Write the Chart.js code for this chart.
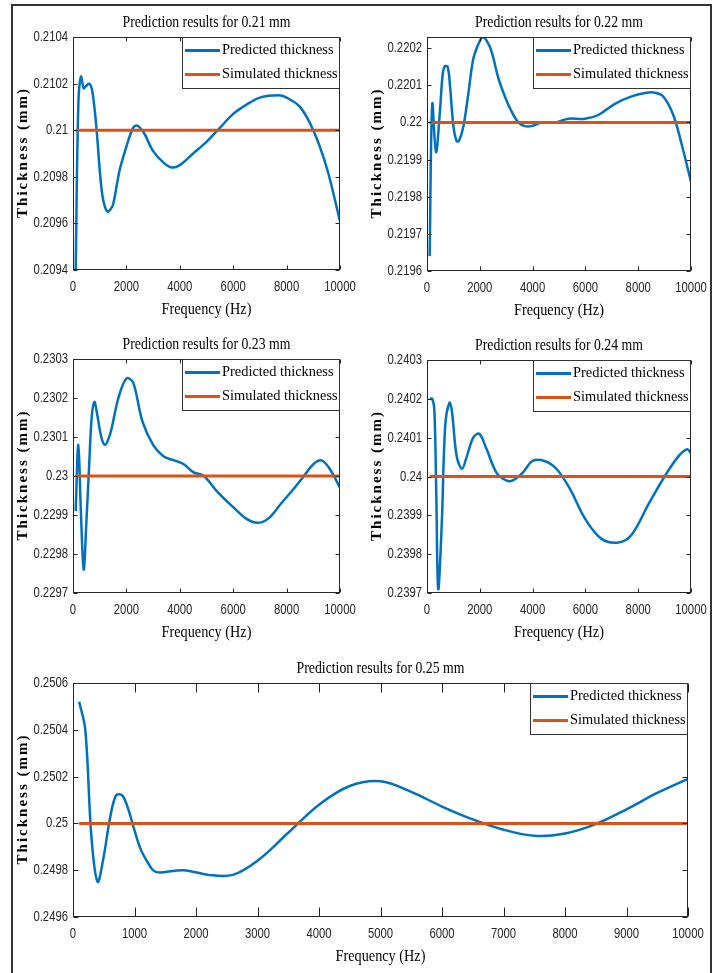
<!DOCTYPE html>
<html>
<head>
<meta charset="utf-8">
<title>Prediction results</title>
<script src="https://cdn.jsdelivr.net/npm/chart.js@4.4.0/dist/chart.umd.min.js"></script>
<style>
  body { margin: 0; background: #fff; }
  #sheet { position: relative; width: 719px; height: 973px; overflow: hidden; }
  #border { position: absolute; left: 11px; top: 4px; width: 697px; height: 1000px; border: 2px solid #333; }
  canvas { position: absolute; }
</style>
</head>
<body>
<div id="sheet">
  <div id="border"></div>
  <canvas id="c21" width="360" height="325" style="left:0;top:0"></canvas>
  <canvas id="c22" width="364" height="325" style="left:355px;top:0"></canvas>
  <canvas id="c23" width="360" height="325" style="left:0;top:322px"></canvas>
  <canvas id="c24" width="364" height="325" style="left:355px;top:322px"></canvas>
  <canvas id="c25" width="719" height="327" style="left:0;top:646px"></canvas>
</div>
<script>
// x ticks (Hz)
var freqTicks = [0, 2000, 4000, 6000, 8000, 10000];
var freqTicksWide = [0, 1000, 2000, 3000, 4000, 5000, 6000, 7000, 8000, 9000, 10000];

// simulated (reference) thickness for each case, mm
var simulated = [0.21, 0.22, 0.23, 0.24, 0.25];

// 0.21 mm
var freq21 = [100, 200, 300, 400, 500, 600, 700, 800, 900, 1000, 1100, 1200, 1300, 1400, 1500, 1750, 2000, 2250, 2400, 2650, 3000, 3400, 3700, 4000, 4500, 5000, 5500, 6000, 6500, 7000, 7700, 8000, 8500, 9000, 9500, 10000];
var pred21 = [0.20940, 0.21011, 0.21023, 0.21018, 0.21019, 0.21020, 0.21018, 0.21010, 0.20998, 0.20983, 0.20972, 0.20967, 0.20965, 0.20966, 0.20968, 0.20983, 0.20993, 0.21001, 0.21002, 0.20999, 0.20991, 0.20986, 0.20984, 0.20985, 0.20990, 0.20995, 0.21001, 0.21007, 0.21011, 0.21014, 0.21015, 0.21014, 0.21010, 0.21000, 0.20984, 0.20961];
var yTicks21 = [0.2094, 0.2096, 0.2098, 0.21, 0.2102, 0.2104];

// 0.22 mm
var freq22 = [100, 200, 340, 490, 580, 660, 780, 870, 1000, 1120, 1210, 1380, 1570, 1750, 1940, 2110, 2260, 2450, 2700, 2950, 3200, 3460, 3710, 3960, 4340, 4850, 5350, 5980, 6490, 7120, 7750, 8320, 8640, 8950, 9330, 9650, 10000];
var pred22 = [0.21964, 0.22005, 0.21992, 0.22003, 0.22012, 0.22015, 0.22015, 0.22010, 0.21999, 0.21995, 0.21995, 0.21999, 0.22008, 0.22017, 0.22021, 0.22023, 0.22022, 0.22019, 0.22012, 0.22007, 0.22003, 0.22000, 0.21999, 0.21999, 0.22000, 0.22000, 0.22001, 0.22001, 0.22002, 0.22005, 0.22007, 0.22008, 0.22008, 0.22007, 0.22002, 0.21994, 0.21984];
var yTicks22 = [0.2196, 0.2197, 0.2198, 0.2199, 0.22, 0.2201, 0.2202];

// 0.23 mm
var freq23 = [100, 200, 300, 400, 500, 600, 700, 800, 900, 1000, 1100, 1200, 1300, 1440, 1700, 2000, 2250, 2600, 3000, 3400, 3800, 4150, 4500, 4900, 5400, 6000, 6500, 6900, 7300, 7800, 8300, 8650, 9000, 9300, 9600, 10000];
var pred23 = [0.22991, 0.23008, 0.22990, 0.22976, 0.22988, 0.23002, 0.23015, 0.23019, 0.23016, 0.23012, 0.23009, 0.23008, 0.23009, 0.23012, 0.23020, 0.23025, 0.23024, 0.23014, 0.23008, 0.23005, 0.23004, 0.23003, 0.23001, 0.23000, 0.22996, 0.22992, 0.22989, 0.22988, 0.22989, 0.22993, 0.22997, 0.23000, 0.23003, 0.23004, 0.23002, 0.22997];
var yTicks23 = [0.2297, 0.2298, 0.2299, 0.23, 0.2301, 0.2302, 0.2303];

// 0.24 mm
var freq24 = [100, 200, 280, 350, 425, 560, 690, 850, 940, 1130, 1330, 1500, 1750, 1980, 2260, 2630, 3000, 3250, 3630, 4000, 4450, 4900, 5400, 6000, 6600, 7250, 7750, 8400, 9000, 9500, 9850, 10000];
var pred24 = [0.24020, 0.24020, 0.24017, 0.23996, 0.23971, 0.23988, 0.24013, 0.24019, 0.24017, 0.24005, 0.24002, 0.24005, 0.24010, 0.24011, 0.24007, 0.24001, 0.23999, 0.23999, 0.24001, 0.24004, 0.24004, 0.24002, 0.23997, 0.23989, 0.23984, 0.23983, 0.23985, 0.23993, 0.24000, 0.24005, 0.24007, 0.24006];
var yTicks24 = [0.2397, 0.2398, 0.2399, 0.24, 0.2401, 0.2402, 0.2403];

// 0.25 mm
var freq25 = [100, 200, 300, 400, 500, 600, 700, 800, 900, 1000, 1100, 1200, 1300, 1400, 1800, 2200, 2600, 3000, 3500, 4000, 4500, 5000, 5500, 6000, 6500, 7000, 7500, 8000, 8500, 9000, 9500, 10000];
var pred25 = [0.25052, 0.25040, 0.24994, 0.24975, 0.24986, 0.25002, 0.25012, 0.25012, 0.25006, 0.24997, 0.24989, 0.24984, 0.24980, 0.24979, 0.24980, 0.24978, 0.24978, 0.24984, 0.24996, 0.25008, 0.25016, 0.25018, 0.250135, 0.250072, 0.250017, 0.249973, 0.249947, 0.249957, 0.249997, 0.25006, 0.25013, 0.25019];
var yTicks25 = [0.2496, 0.2498, 0.25, 0.2502, 0.2504, 0.2506];

var BLUE = '#0072BD';
var ORANGE = '#D95319';
var SERIF = "'Liberation Serif', 'Times New Roman', serif";
var SANS = "'Liberation Sans', Arial, sans-serif";

// text squeezed horizontally by sx, to get the narrow look of the figure fonts
function drawText(ctx, text, x, y, font, sx, align, color) {
  ctx.save();
  ctx.font = font;
  ctx.textAlign = align;
  ctx.textBaseline = 'middle';
  ctx.fillStyle = color || '#000';
  ctx.translate(x, y);
  ctx.scale(sx, 1);
  ctx.fillText(text, 0, 0);
  ctx.restore();
}

// boxed axes with inward ticks, tick labels, legend box and titles
var matlabFrame = {
  id: 'matlabFrame',
  afterDraw: function (chart, args, o) {
    var ctx = chart.ctx, a = chart.chartArea;
    var xs = chart.scales.x, ys = chart.scales.y;
    var L = Math.round(a.left) + 0.5, R = Math.round(a.right) - 0.5;
    var T = Math.round(a.top) + 0.5, B = Math.round(a.bottom) - 0.5;
    var tickFont = '14.5px ' + SANS;

    ctx.save();
    ctx.strokeStyle = '#262626';
    ctx.lineWidth = 1;
    ctx.strokeRect(L, T, R - L, B - T);
    ctx.beginPath();
    xs.ticks.forEach(function (t) {
      var p = Math.round(xs.getPixelForValue(t.value)) + 0.5;
      ctx.moveTo(p, B); ctx.lineTo(p, B - o.xTick);
      ctx.moveTo(p, T); ctx.lineTo(p, T + o.xTick);
    });
    ys.ticks.forEach(function (t) {
      var p = Math.round(ys.getPixelForValue(t.value)) + 0.5;
      ctx.moveTo(L, p); ctx.lineTo(L + o.yTick, p);
      ctx.moveTo(R, p); ctx.lineTo(R - o.yTick, p);
    });
    ctx.stroke();

    xs.ticks.forEach(function (t) {
      drawText(ctx, String(t.value), xs.getPixelForValue(t.value), a.bottom + 17, tickFont, 0.78, 'center', '#262626');
    });
    ys.ticks.forEach(function (t) {
      drawText(ctx, String(+t.value.toFixed(4)), a.left - 5, ys.getPixelForValue(t.value), tickFont, 0.78, 'right', '#262626');
    });

    // legend in the upper right corner
    var lw = 158, lh = 51, lx = Math.round(a.right) - lw;
    ctx.fillStyle = '#fff';
    ctx.fillRect(lx, T, lw, lh);
    ctx.strokeStyle = '#333';
    ctx.strokeRect(lx + 0.5, T, lw - 1, lh);
    chart.data.datasets.forEach(function (ds, i) {
      var cy = T + 13 + i * 24;
      ctx.strokeStyle = ds.borderColor;
      ctx.lineWidth = 3;
      ctx.beginPath();
      ctx.moveTo(lx + 3, cy); ctx.lineTo(lx + 38, cy);
      ctx.stroke();
      drawText(ctx, ds.label, lx + 40, cy, '15px ' + SERIF, 0.96, 'left');
    });

    // titles
    var cx = (a.left + a.right) / 2;
    drawText(ctx, o.title, cx, a.top - 14.5, '16px ' + SERIF, 0.86, 'center');
    drawText(ctx, 'Frequency (Hz)', cx, a.bottom + 40, '16px ' + SERIF, 0.89, 'center');

    ctx.save();
    ctx.translate(a.left - 50, (a.top + a.bottom) / 2);
    ctx.rotate(-Math.PI / 2);
    ctx.font = 'bold 15px ' + SERIF;
    ctx.letterSpacing = '2px';
    ctx.textAlign = 'center';
    ctx.textBaseline = 'middle';
    ctx.fillStyle = '#000';
    ctx.fillText('Thickness (mm)', 1, 0);
    ctx.restore();

    ctx.restore();
  }
};

function makeChart(id, c) {
  var cv = document.getElementById(id);
  var predicted = c.freq.map(function (f, i) { return { x: f, y: c.pred[i] }; });
  var reference = [{ x: c.freq[0], y: c.sim }, { x: c.freq[c.freq.length - 1], y: c.sim }];
  return new Chart(cv, {
    type: 'line',
    data: {
      datasets: [{
        label: 'Predicted thickness',
        data: predicted,
        borderColor: BLUE,
        borderWidth: 2.5,
        pointRadius: 0,
        tension: 0.35,
        order: 1
      }, {
        label: 'Simulated thickness',
        data: reference,
        borderColor: ORANGE,
        borderWidth: 3,
        pointRadius: 0,
        order: 0
      }]
    },
    options: {
      responsive: false,
      animation: false,
      events: [],
      layout: { padding: { left: 0, top: c.area.top, right: cv.width - c.area.right, bottom: 0 } },
      plugins: {
        legend: { display: false },
        tooltip: { enabled: false },
        matlabFrame: { title: c.title, xTick: c.xTick, yTick: c.yTick }
      },
      scales: {
        x: {
          type: 'linear',
          min: 0,
          max: 10000,
          grid: { display: false, drawTicks: false },
          border: { display: false },
          ticks: { display: false },
          afterBuildTicks: function (s) { s.ticks = c.xTicks.map(function (v) { return { value: v }; }); },
          afterFit: function (s) { s.height = cv.height - c.area.bottom; s.paddingLeft = 0; s.paddingRight = 0; }
        },
        y: {
          type: 'linear',
          min: c.yMin,
          max: c.yMax,
          grid: { display: false, drawTicks: false },
          border: { display: false },
          ticks: { display: false },
          afterBuildTicks: function (s) { s.ticks = c.yTicks.map(function (v) { return { value: v }; }); },
          afterFit: function (s) { s.width = c.area.left; s.paddingTop = 0; s.paddingBottom = 0; }
        }
      }
    },
    plugins: [matlabFrame]
  });
}

makeChart('c21', {
  title: 'Prediction results for 0.21 mm', freq: freq21, pred: pred21, sim: simulated[0],
  yMin: 0.2094, yMax: 0.2104, yTicks: yTicks21, xTicks: freqTicks,
  area: { left: 73, right: 340, top: 37, bottom: 270 }, xTick: 4, yTick: 4
});
makeChart('c22', {
  title: 'Prediction results for 0.22 mm', freq: freq22, pred: pred22, sim: simulated[1],
  yMin: 0.2196, yMax: 0.22023, yTicks: yTicks22, xTicks: freqTicks,
  area: { left: 72, right: 336, top: 37, bottom: 271 }, xTick: 4, yTick: 4
});
makeChart('c23', {
  title: 'Prediction results for 0.23 mm', freq: freq23, pred: pred23, sim: simulated[2],
  yMin: 0.2297, yMax: 0.2303, yTicks: yTicks23, xTicks: freqTicks,
  area: { left: 73, right: 340, top: 37, bottom: 271 }, xTick: 4, yTick: 4
});
makeChart('c24', {
  title: 'Prediction results for 0.24 mm', freq: freq24, pred: pred24, sim: simulated[3],
  yMin: 0.2397, yMax: 0.2403, yTicks: yTicks24, xTicks: freqTicks,
  area: { left: 72, right: 336, top: 38, bottom: 271 }, xTick: 4, yTick: 4
});
makeChart('c25', {
  title: 'Prediction results for 0.25 mm', freq: freq25, pred: pred25, sim: simulated[4],
  yMin: 0.2496, yMax: 0.2506, yTicks: yTicks25, xTicks: freqTicksWide,
  area: { left: 73, right: 688, top: 37, bottom: 271 }, xTick: 9, yTick: 5
});
</script>
</body>
</html>
